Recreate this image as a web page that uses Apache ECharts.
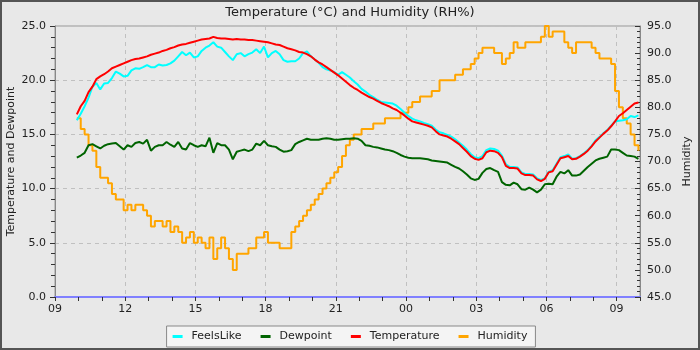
<!DOCTYPE html>
<html>
<head>
<meta charset="utf-8">
<script src="https://cdn.jsdelivr.net/npm/echarts@6/dist/echarts.min.js"></script>
<style>
  html, body { margin: 0; padding: 0; background: #e8e8e8; }
  #chart { width: 700px; height: 350px; }
</style>
</head>
<body>
<div id="chart"></div>
<script>
// Samples every 10 minutes, starting at 09:56 and running for one day.
const START_TIME = '09:56';
const STEP_MINUTES = 10;
const SAMPLE_COUNT = 145;

const xTickLabels = ['09', '12', '15', '18', '21', '00', '03', '06', '09'];

const temperature = [
  16.85, 17.6, 18.1, 18.9, 19.4, 20.1, 20.35, 20.55, 20.8, 21.1,
  21.25, 21.4, 21.55, 21.7, 21.85, 21.95, 22.0, 22.1, 22.2, 22.35,
  22.45, 22.55, 22.7, 22.8, 22.95, 23.05, 23.2, 23.3, 23.35, 23.45,
  23.55, 23.65, 23.75, 23.8, 23.85, 24.0, 23.9, 23.85, 23.85, 23.8,
  23.75, 23.8, 23.75, 23.75, 23.7, 23.7, 23.65, 23.6, 23.55, 23.5,
  23.4, 23.3, 23.25, 23.1, 22.95, 22.85, 22.75, 22.6, 22.55, 22.4,
  22.2, 21.9, 21.65, 21.45, 21.2, 20.95, 20.7, 20.45, 20.15, 19.85,
  19.55, 19.3, 19.1, 18.85, 18.65, 18.45, 18.3, 18.1, 17.9, 17.75,
  17.6, 17.4, 17.25, 17.0, 16.75, 16.45, 16.2, 16.1, 16.0, 15.9,
  15.8, 15.65, 15.3, 15.0, 14.9, 14.8, 14.6, 14.35, 14.1, 13.75,
  13.4, 13.0, 12.75, 12.65, 12.8, 13.35, 13.5, 13.45, 13.3, 12.9,
  12.1, 11.9, 11.9, 11.85, 11.4, 11.25, 11.25, 11.2, 10.85, 10.7,
  10.9, 11.5, 11.6, 12.2, 12.8, 12.9, 13.0, 12.7, 12.75, 12.95,
  13.2, 13.5, 13.9, 14.35, 14.7, 15.05, 15.35, 15.75, 16.2, 16.7,
  16.95, 17.25, 17.55, 17.85, 17.95
];

const feelsLike = [
  16.3, 16.9, 17.6, 18.4, 19.4, 19.75, 19.15, 19.7, 19.75, 20.2,
  20.8, 20.6, 20.35, 20.4, 20.9, 21.1, 21.05, 21.2, 21.4, 21.2,
  21.2, 21.45, 21.35, 21.4, 21.55, 21.8, 22.2, 22.6, 22.3, 22.55,
  22.1, 22.2, 22.7, 23.0, 23.2, 23.5, 23.1, 23.0, 22.6, 22.2,
  21.85, 22.4, 22.5, 22.2, 22.4, 22.55, 22.85, 22.5, 23.1, 22.1,
  22.5, 22.7, 22.4, 21.85, 21.7, 21.75, 21.75, 22.0, 22.5, 22.65,
  22.2, 21.9, 21.6, 21.2, 21.0, 20.9, 20.75, 20.5, 20.75, 20.5,
  20.25, 19.9, 19.6, 19.2, 18.95, 18.65, 18.45, 18.2, 18.0, 17.95,
  17.9, 17.85, 17.65, 17.35, 17.0, 16.7, 16.45, 16.3, 16.2, 16.05,
  15.95, 15.8, 15.45, 15.2, 15.1, 14.95, 14.8, 14.55, 14.25, 13.95,
  13.6, 13.2, 12.9, 12.8, 13.0, 13.55, 13.7, 13.65, 13.5, 13.05,
  12.25, 12.0, 12.0, 11.95, 11.5, 11.35, 11.35, 11.3, 10.95, 10.8,
  10.95, 11.55, 11.7, 12.3, 12.9, 13.0, 13.15, 12.75, 12.8, 13.0,
  13.25, 13.55, 13.95, 14.45, 14.75, 15.1, 15.4, 15.8, 16.2, 16.25,
  16.3, 16.4, 16.7, 16.6, 16.75
];

const dewpoint = [
  12.85, 13.05, 13.3, 14.0, 14.1, 13.9, 13.7, 13.95, 14.1, 14.15,
  14.2, 13.9, 13.6, 14.0, 13.85, 14.2, 14.3, 14.15, 14.5, 13.5,
  13.85, 14.0, 14.0, 14.3, 14.05, 13.85, 14.3, 13.7, 13.6, 14.2,
  14.0, 13.85, 14.0, 13.9, 14.7, 13.3, 14.2, 14.0, 14.0, 13.6,
  12.7, 13.4, 13.5, 13.6, 13.45, 13.6, 14.15, 14.0, 14.4, 14.0,
  13.9, 13.85, 13.6, 13.4, 13.45, 13.55, 14.1, 14.3, 14.45, 14.6,
  14.5, 14.5, 14.5, 14.6, 14.65, 14.6, 14.5, 14.5, 14.55, 14.6,
  14.6, 14.65, 14.6, 14.4, 14.0, 13.95, 13.85, 13.8, 13.7, 13.6,
  13.55, 13.45, 13.3, 13.1, 12.95, 12.85, 12.8, 12.8, 12.8, 12.75,
  12.7, 12.6, 12.55, 12.5, 12.45, 12.4, 12.2, 12.0, 11.85, 11.6,
  11.3, 10.95, 10.8, 10.9, 11.45, 11.8, 11.9, 11.7, 11.55, 10.6,
  10.35, 10.3, 10.55, 10.4, 9.95, 9.9, 10.1, 9.9, 9.65, 9.9,
  10.4, 10.45, 10.4, 11.1, 11.55, 11.4, 11.7, 11.2, 11.2, 11.3,
  11.65, 12.0, 12.3, 12.6, 12.75, 12.85, 12.95, 13.6, 13.6, 13.55,
  13.3, 13.05, 13.0, 12.95, 12.75
];

const humidity = [
  78, 76, 75, 73, 72, 69, 67, 67, 66, 64,
  63, 63, 61, 62, 61, 62, 62, 61, 60, 58,
  59, 59, 58, 59, 57, 58, 57, 55, 56, 57,
  55, 56, 55, 54, 56, 52, 54, 56, 54, 52,
  50, 53, 53, 53, 54, 54, 56, 56, 57, 55,
  55, 55, 54, 54, 54, 57, 58, 59, 60, 61,
  62, 63, 64, 65, 66, 67, 68, 69, 71, 73,
  74, 75, 75, 76, 76, 76, 77, 77, 77, 78,
  78, 78, 78, 79, 79, 80, 81, 81, 82, 82,
  82, 83, 83, 85, 85, 85, 85, 86, 86, 87,
  87, 88, 89, 90, 91, 91, 91, 90, 90, 88,
  89, 90, 92, 91, 91, 92, 92, 92, 92, 93,
  95, 93, 94, 94, 94, 92, 91, 90, 92, 92,
  92, 92, 91, 90, 89, 89, 89, 88, 83, 80,
  78, 77, 75, 73, 72
];

// Build the HH:MM sample times and convert them to hours after 09:00.
const times = [];
(function () {
  const [sh, sm] = START_TIME.split(':').map(Number);
  let m = sh * 60 + sm;
  for (let i = 0; i < SAMPLE_COUNT; i++) {
    const mm = m % 1440;
    times.push(String(Math.floor(mm / 60)).padStart(2, '0') + ':' + String(mm % 60).padStart(2, '0'));
    m += STEP_MINUTES;
  }
})();
function hoursFromNine(t) {
  const [h, m] = t.split(':').map(Number);
  let mins = h * 60 + m - 9 * 60;
  if (mins < 0) mins += 1440;
  return mins / 60;
}
const hours = times.map(hoursFromNine);
// Samples after midnight belong to the next day.
for (let i = 1; i < hours.length; i++) {
  while (hours[i] < hours[i - 1]) hours[i] += 24;
}
const pairs = vals => vals.map((v, i) => [hours[i], v]);

const FONT = 'DejaVu Sans';
const chart = echarts.init(document.getElementById('chart'), null, { renderer: 'canvas' });

chart.setOption({
  animation: false,
  backgroundColor: '#e8e8e8',
  textStyle: { fontFamily: FONT },
  title: {
    text: 'Temperature (°C) and Humidity (RH%)',
    left: 'center',
    top: 1,
    textStyle: { fontFamily: FONT, fontSize: 13, fontWeight: 'normal', color: '#222' }
  },
  graphic: [{
    type: 'rect',
    silent: true,
    z: 100,
    shape: { x: 1, y: 1, width: 698, height: 348 },
    style: { fill: 'none', stroke: '#555', lineWidth: 2 }
  }],
  grid: {
    left: 55, right: 60, top: 26, bottom: 53,
    outerBoundsMode: 'none',
    containLabel: false,
    show: true, borderColor: '#999', borderWidth: 1, backgroundColor: 'transparent'
  },
  legend: {
    bottom: 3,
    left: 'center',
    data: ['FeelsLike', 'Dewpoint', 'Temperature', 'Humidity'],
    icon: 'rect',
    itemWidth: 10,
    itemHeight: 3,
    itemGap: 19,
    padding: [5, 8, 5, 6],
    backgroundColor: '#f4f4f4',
    borderColor: '#888',
    borderWidth: 1,
    borderRadius: 0,
    textStyle: { fontFamily: FONT, fontSize: 11, color: '#222', padding: [0, 0, 0, 4] }
  },
  xAxis: {
    type: 'value',
    min: 0,
    max: 25,
    interval: 3,
    axisLine: { lineStyle: { color: '#8080ff', width: 2 } },
    axisTick: { length: 4, lineStyle: { color: '#333' } },
    minorTick: { show: true, splitNumber: 3, length: 4, lineStyle: { color: '#333' } },
    splitLine: { show: true, lineStyle: { color: '#c0c0c0', type: [4, 4] } },
    axisLabel: {
      fontFamily: FONT, fontSize: 11, color: '#222', margin: 7,
      showMaxLabel: false,
      formatter: v => xTickLabels[Math.round(v / 3)] || ''
    }
  },
  yAxis: [{
    type: 'value',
    min: 0,
    max: 25,
    interval: 5,
    name: 'Temperature and Dewpoint',
    nameLocation: 'middle',
    nameGap: 38,
    nameMoveOverlap: false,
    nameTextStyle: { fontFamily: FONT, fontSize: 11, color: '#222' },
    axisLine: { show: true, lineStyle: { color: '#888' } },
    axisTick: { show: true, length: 5, lineStyle: { color: '#333' } },
    minorTick: { show: true, splitNumber: 5, length: 4, lineStyle: { color: '#333' } },
    splitLine: { show: true, lineStyle: { color: '#c0c0c0', type: [4, 4] } },
    axisLabel: { fontFamily: FONT, fontSize: 11, color: '#222', margin: 9, formatter: v => v.toFixed(1) }
  }, {
    type: 'value',
    position: 'right',
    min: 45,
    max: 95,
    interval: 5,
    name: 'Humidity',
    nameLocation: 'middle',
    nameGap: 42,
    nameMoveOverlap: false,
    nameTextStyle: { fontFamily: FONT, fontSize: 11, color: '#222' },
    axisLine: { show: true, lineStyle: { color: '#888' } },
    axisTick: { show: true, inside: true, length: 5, lineStyle: { color: '#333' } },
    minorTick: { show: true, splitNumber: 5, length: 3, lineStyle: { color: '#333' } },
    splitLine: { show: false },
    axisLabel: { fontFamily: FONT, fontSize: 11, color: '#222', margin: 7, formatter: v => v.toFixed(1) }
  }],
  series: [{
    name: 'Humidity',
    type: 'line',
    yAxisIndex: 1,
    step: 'end',
    data: pairs(humidity),
    showSymbol: false,
    color: '#ffa500',
    lineStyle: { width: 2, color: '#ffa500' },
    z: 2
  }, {
    name: 'FeelsLike',
    type: 'line',
    data: pairs(feelsLike),
    showSymbol: false,
    color: '#00ffff',
    lineStyle: { width: 2, color: '#00ffff' },
    z: 3
  }, {
    name: 'Dewpoint',
    type: 'line',
    data: pairs(dewpoint),
    showSymbol: false,
    color: '#006400',
    lineStyle: { width: 2, color: '#006400' },
    z: 4
  }, {
    name: 'Temperature',
    type: 'line',
    data: pairs(temperature),
    showSymbol: false,
    color: '#ff0000',
    lineStyle: { width: 2, color: '#ff0000' },
    z: 5
  }]
});
</script>
</body>
</html>
